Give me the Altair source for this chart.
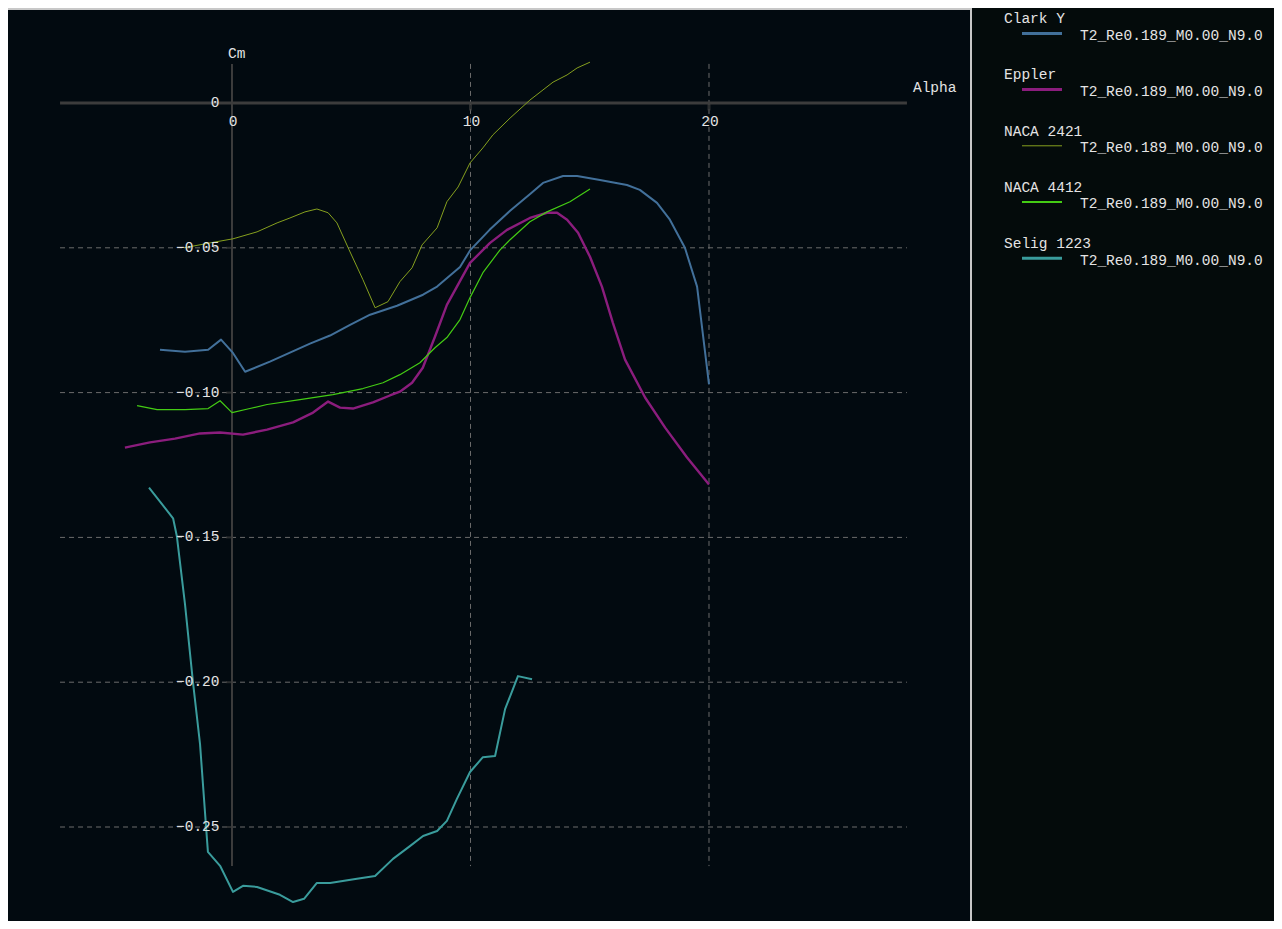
import altair as alt
import pandas as pd

# ---------------- data ----------------
series_names = ["Clark Y", "Eppler", "NACA 2421", "NACA 4412", "Selig 1223"]
series_colors = ["#42709a", "#8b1d7d", "#86a01e", "#44cc14", "#3a9c9c"]
series_widths = [2, 2.4, 1, 1.2, 2]
legend_widths = [3, 3, 1, 2, 3]
polar_label = "T2_Re0.189_M0.00_N9.0"

clark_alpha = [-3.02, -1.97, -1.0, -0.46, 0.04, 0.55, 1.59, 2.43, 3.27, 4.11, 4.95, 5.79, 6.92,
               8.01, 8.6, 9.56, 10.0, 10.8, 11.66, 12.5, 13.04, 13.88, 14.47, 15.43, 16.56,
               17.1, 17.82, 18.36, 18.99, 19.5, 20.0]
clark_cm = [-0.0852, -0.0859, -0.0852, -0.0817, -0.0863, -0.0928, -0.0893, -0.0862, -0.0831,
            -0.0803, -0.0766, -0.0731, -0.0700, -0.0662, -0.0634, -0.0566, -0.0507, -0.0438,
            -0.0372, -0.0314, -0.0276, -0.0252, -0.0252, -0.0266, -0.0283, -0.0300, -0.0345,
            -0.0403, -0.0500, -0.0634, -0.0972]

eppler_alpha = [-4.49, -3.44, -2.39, -1.34, -0.5, 0.46, 1.47, 2.56, 3.4, 4.03, 4.53, 5.07, 5.91,
                6.62, 7.04, 7.55, 8.0, 8.51, 9.01, 9.98, 10.82, 11.53, 12.49, 13.21, 13.63,
                14.05, 14.51, 15.01, 15.51, 15.97, 16.48, 17.32, 18.16, 19.08, 20.0]
eppler_cm = [-0.1190, -0.1172, -0.1159, -0.1141, -0.1138, -0.1145, -0.1128, -0.1103, -0.1069,
             -0.1031, -0.1052, -0.1055, -0.1034, -0.1010, -0.0997, -0.0966, -0.0914, -0.0807,
             -0.0697, -0.0552, -0.0483, -0.0438, -0.0397, -0.0379, -0.0379, -0.0403, -0.0448,
             -0.0531, -0.0634, -0.0759, -0.0886, -0.1017, -0.1121, -0.1224, -0.1317]

naca2421_alpha = [-2.01, -0.92, 0.04, 1.05, 1.89, 2.43, 3.06, 3.56, 4.03, 4.4, 4.91, 5.49, 6.0,
                  6.54, 7.04, 7.55, 7.97, 8.6, 9.01, 9.48, 9.98, 10.52, 10.94, 11.66, 12.49,
                  13.46, 14.05, 14.47, 15.01]
naca2421_cm = [-0.0500, -0.0483, -0.0469, -0.0445, -0.0414, -0.0397, -0.0376, -0.0366, -0.0379,
               -0.0414, -0.0507, -0.0610, -0.0707, -0.0686, -0.0617, -0.0569, -0.0490, -0.0431,
               -0.0341, -0.0290, -0.0207, -0.0155, -0.0110, -0.0052, 0.0010, 0.0072, 0.0097,
               0.0121, 0.0141]

naca4412_alpha = [-3.98, -3.14, -1.97, -1.0, -0.5, 0.0, 0.75, 1.47, 2.85, 4.23, 5.49, 6.33, 7.04,
                  7.88, 8.51, 9.01, 9.56, 9.98, 10.52, 11.24, 11.66, 12.49, 13.21, 14.17, 15.01]
naca4412_cm = [-0.1045, -0.1059, -0.1059, -0.1055, -0.1028, -0.1069, -0.1055, -0.1041, -0.1024,
               -0.1007, -0.0986, -0.0966, -0.0938, -0.0897, -0.0845, -0.0810, -0.0748, -0.0672,
               -0.0586, -0.0507, -0.0472, -0.0410, -0.0376, -0.0341, -0.0297]

selig_alpha = [-3.48, -2.47, -2.31, -1.97, -1.64, -1.34, -1.09, -1.01, -0.5, 0.04, 0.46, 1.05,
               2.01, 2.56, 3.02, 3.56, 4.11, 5.24, 6.0, 6.75, 7.46, 8.01, 8.6, 9.01, 9.43, 9.98,
               10.52, 11.03, 11.45, 11.99, 12.58]
selig_cm = [-0.1328, -0.1434, -0.1497, -0.1731, -0.1997, -0.2214, -0.2497, -0.2586, -0.2634,
            -0.2724, -0.2703, -0.2707, -0.2734, -0.2759, -0.2748, -0.2693, -0.2693, -0.2679,
            -0.2669, -0.2610, -0.2566, -0.2531, -0.2514, -0.2479, -0.2403, -0.2310, -0.2259,
            -0.2255, -0.2093, -0.1979, -0.1990]

x_ticks = [0, 10, 20]
x_tick_labels = ["0", "10", "20"]
y_ticks = [0, -0.05, -0.10, -0.15, -0.20, -0.25]
y_tick_labels = ["0", "\u22120.05", "\u22120.10", "\u22120.15", "\u22120.20", "\u22120.25"]
x_grid = [10, 20]
y_grid = [-0.05, -0.10, -0.15, -0.20, -0.25]
x_title = "Alpha"
y_title = "Cm"

# axis extents (data units)
X_MIN, X_MAX = -7.21, 28.30
Y_MIN, Y_MAX = -0.2635, 0.0135

# ---------------- layout / style ----------------
W, H = 1266, 913
XA = -9.39203
XB = 43.68973
YT = 0.032804
YB = -0.282458
FONT = "Courier New, Liberation Mono, monospace"
FS = 14.5
TXT = "#e4e4e4"
PLOT_BG = "#020a10"
LEG_BG = "#040b0b"
GRID = "#6c6c6c"
AXIS = "#3c3c3c"

xs = alt.Scale(domain=[XA, XB], nice=False, zero=False)
ys = alt.Scale(domain=[YB, YT], nice=False, zero=False)

one = pd.DataFrame({"d": [0]})

legend_panel = alt.Chart(one).mark_rect(fill=LEG_BG).encode(
    x=alt.value(964), x2=alt.value(W), y=alt.value(0), y2=alt.value(H))
border_right = alt.Chart(one).mark_rule(color="#c8c8c8", strokeWidth=2).encode(
    x=alt.value(963), y=alt.value(0), y2=alt.value(H))
border_top = alt.Chart(one).mark_rule(color="#c8c8c8", strokeWidth=2).encode(
    x=alt.value(0), x2=alt.value(964), y=alt.value(1))

vg = pd.DataFrame({"x": x_grid, "y0": Y_MAX, "y1": Y_MIN})
hg = pd.DataFrame({"y": y_grid, "x0": X_MIN, "x1": X_MAX})
vgrid = alt.Chart(vg).mark_rule(color=GRID, strokeWidth=1, strokeDash=[5, 4]).encode(
    x=alt.X("x:Q", scale=xs, axis=None), y=alt.Y("y0:Q", scale=ys, axis=None), y2="y1:Q")
hgrid = alt.Chart(hg).mark_rule(color=GRID, strokeWidth=1, strokeDash=[5, 4]).encode(
    y=alt.Y("y:Q", scale=ys, axis=None), x=alt.X("x0:Q", scale=xs, axis=None), x2="x1:Q")

hax = alt.Chart(pd.DataFrame({"x0": [X_MIN], "x1": [X_MAX], "y": [0]})).mark_rule(
    color=AXIS, strokeWidth=3).encode(
    x=alt.X("x0:Q", scale=xs, axis=None), x2="x1:Q", y=alt.Y("y:Q", scale=ys, axis=None))
vax = alt.Chart(pd.DataFrame({"y0": [Y_MAX], "y1": [Y_MIN], "x": [0]})).mark_rule(
    color=AXIS, strokeWidth=2).encode(
    y=alt.Y("y0:Q", scale=ys, axis=None), y2="y1:Q", x=alt.X("x:Q", scale=xs, axis=None))

xt = pd.DataFrame({"x": x_ticks, "y": 0, "t": x_tick_labels})
yt = pd.DataFrame({"y": y_ticks, "x": 0, "t": y_tick_labels})
xtick_marks = alt.Chart(xt[xt.x != 0]).mark_tick(
    orient="vertical", color=AXIS, size=7, thickness=3, yOffset=4).encode(
    x=alt.X("x:Q", scale=xs, axis=None), y=alt.Y("y:Q", scale=ys, axis=None))
ytick_marks = alt.Chart(yt[yt.y != 0]).mark_tick(
    orient="horizontal", color=AXIS, size=6, thickness=2, xOffset=-3).encode(
    x=alt.X("x:Q", scale=xs, axis=None), y=alt.Y("y:Q", scale=ys, axis=None))
xlabels = alt.Chart(xt).mark_text(font=FONT, fontSize=FS, color=TXT, align="center",
                                  baseline="middle", dy=19, dx=1).encode(
    x=alt.X("x:Q", scale=xs, axis=None), y=alt.Y("y:Q", scale=ys, axis=None), text="t:N")
ylabels = alt.Chart(yt).mark_text(font=FONT, fontSize=FS, color=TXT, align="right",
                                  baseline="middle", dx=-12.5).encode(
    x=alt.X("x:Q", scale=xs, axis=None), y=alt.Y("y:Q", scale=ys, axis=None), text="t:N")

ytitle = alt.Chart(pd.DataFrame({"x": [0], "y": [Y_MAX], "t": [y_title]})).mark_text(
    font=FONT, fontSize=FS, color=TXT, align="left", baseline="middle", dx=-4, dy=-10).encode(
    x=alt.X("x:Q", scale=xs, axis=None), y=alt.Y("y:Q", scale=ys, axis=None), text="t:N")
xtitle = alt.Chart(pd.DataFrame({"x": [X_MAX], "y": [0], "t": [x_title]})).mark_text(
    font=FONT, fontSize=FS, color=TXT, align="left", baseline="middle", dx=6, dy=-15).encode(
    x=alt.X("x:Q", scale=xs, axis=None), y=alt.Y("y:Q", scale=ys, axis=None), text="t:N")

series_data = [(clark_alpha, clark_cm), (eppler_alpha, eppler_cm),
               (naca2421_alpha, naca2421_cm), (naca4412_alpha, naca4412_cm),
               (selig_alpha, selig_cm)]

line_layers = []
for name, col, wdt, (a, c) in zip(series_names, series_colors, series_widths, series_data):
    d = pd.DataFrame({"alpha": a, "cm": c, "k": list(range(len(a)))})
    line_layers.append(
        alt.Chart(d).mark_line(color=col, strokeWidth=wdt, strokeJoin="round").encode(
            x=alt.X("alpha:Q", scale=xs, axis=None),
            y=alt.Y("cm:Q", scale=ys, axis=None),
            order="k:Q",
        )
    )

# ---------------- legend (own y scale) ----------------
ls = alt.Scale(domain=[-0.19929, 16.04626], nice=False, zero=False, reverse=True)
legend_layers = []
for i, (name, col, lw) in enumerate(zip(series_names, series_colors, legend_widths)):
    d = pd.DataFrame({"i": [i], "name": [name], "lab": [polar_label]})
    legend_layers.append(alt.Chart(d).mark_text(font=FONT, fontSize=FS, color=TXT, align="left",
                                                baseline="middle").encode(
        x=alt.value(996), y=alt.Y("i:Q", scale=ls, axis=None), text="name:N"))
    legend_layers.append(alt.Chart(d).mark_rule(color=col, strokeWidth=lw, yOffset=14.2).encode(
        x=alt.value(1014), x2=alt.value(1054), y=alt.Y("i:Q", scale=ls, axis=None)))
    legend_layers.append(alt.Chart(d).mark_text(font=FONT, fontSize=FS, color=TXT, align="left",
                                                baseline="middle", dy=16.5).encode(
        x=alt.value(1072), y=alt.Y("i:Q", scale=ls, axis=None), text="lab:N"))

chart = alt.layer(
    legend_panel, border_right, border_top,
    vgrid, hgrid, hax, vax, xtick_marks, ytick_marks,
    *line_layers, xlabels, ylabels, ytitle, xtitle,
    *legend_layers,
).resolve_scale(y="independent").properties(
    width=W, height=H, autosize=alt.AutoSizeParams(type="none"), padding=0, background=PLOT_BG
).configure_view(stroke=None)

chart.save("out.html", embed_options={"renderer": "svg", "actions": False})
